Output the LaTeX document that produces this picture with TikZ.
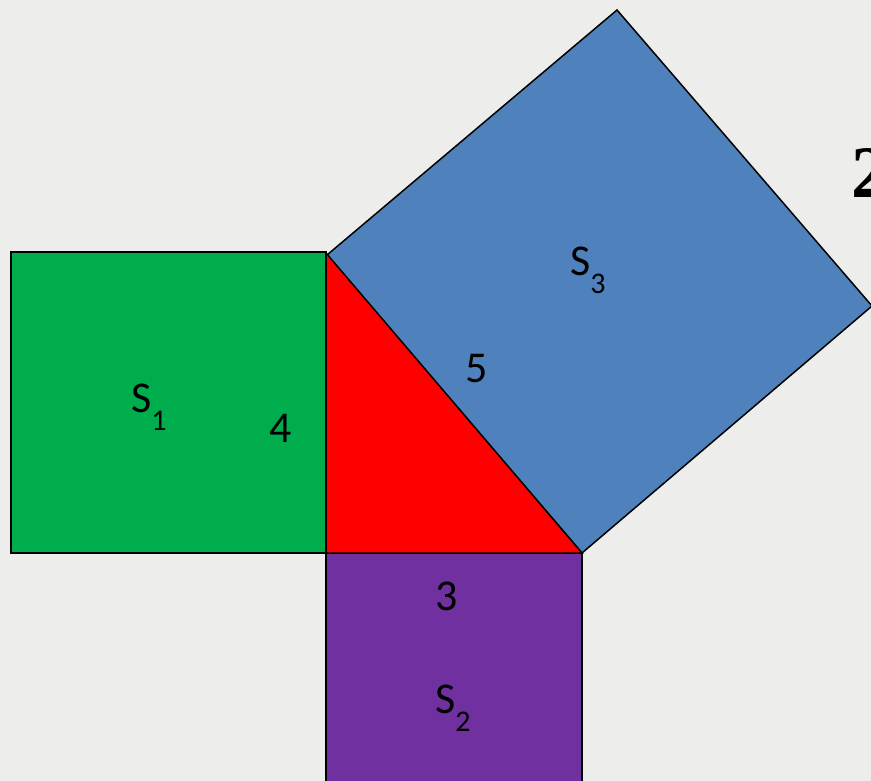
\documentclass[tikz,border=0pt]{standalone}
\usepackage{fontspec}
\setmainfont{Carlito}
\newfontfamily\bigserif{Liberation Serif}
\usepackage{xcolor}
\usepackage{tikz}

\definecolor{paper}{HTML}{EDEDEB}
\definecolor{sqgreen}{HTML}{00AD4D}
\definecolor{sqblue}{HTML}{4F81BD}
\definecolor{sqpurple}{HTML}{7030A0}

\newcommand{\sqlabel}[1]{S\raisebox{-18pt}{\fontsize{30}{30}\selectfont #1}}

\begin{document}
\begin{tikzpicture}[x=1pt,y=-1pt,
    piece/.style={draw=black,line width=1.5pt,line join=miter},
    side/.style={font=\fontsize{44}{50}\selectfont,inner sep=0pt,anchor=base},
    area/.style={font=\fontsize{44}{50}\selectfont,inner sep=0pt,anchor=base west}]
                    \useasboundingbox (0,0) rectangle (871,781);
                    \clip (0,0) rectangle (871,781);
                    \fill[paper] (0,0) rectangle (871,781);

                    % squares on the sides
                    \draw[piece,fill=sqgreen] (11,252) rectangle (326,553);
                    \draw[piece,fill=sqpurple] (326,553) rectangle (582,790);
                    \draw[piece,fill=sqblue] (327,255) -- (617,10) -- (872,306) -- (582,553) -- cycle;

                    % right triangle
                    \draw[piece,fill=red] (326,253) -- (326,553) -- (582,553) -- cycle;

                    \node[side] (leg4) at (281,442) {4};
                    \node[side] (leg3) at (447,610) {3};
                    \node[side] (hyp5) at (477,382) {5};

                    \node[area] (s1) at (131,412) {\sqlabel{1}};
                    \node[area] (s2) at (435,713) {\sqlabel{2}};
                    \node[area] (s3) at (570,275) {\sqlabel{3}};

                    % partly hidden number at the right edge
                    \node[inner sep=0pt,anchor=base west,font=\bigserif\bfseries\fontsize{74}{80}\selectfont] (two) at (851,198) {2};
                \end{tikzpicture}
\end{document}
